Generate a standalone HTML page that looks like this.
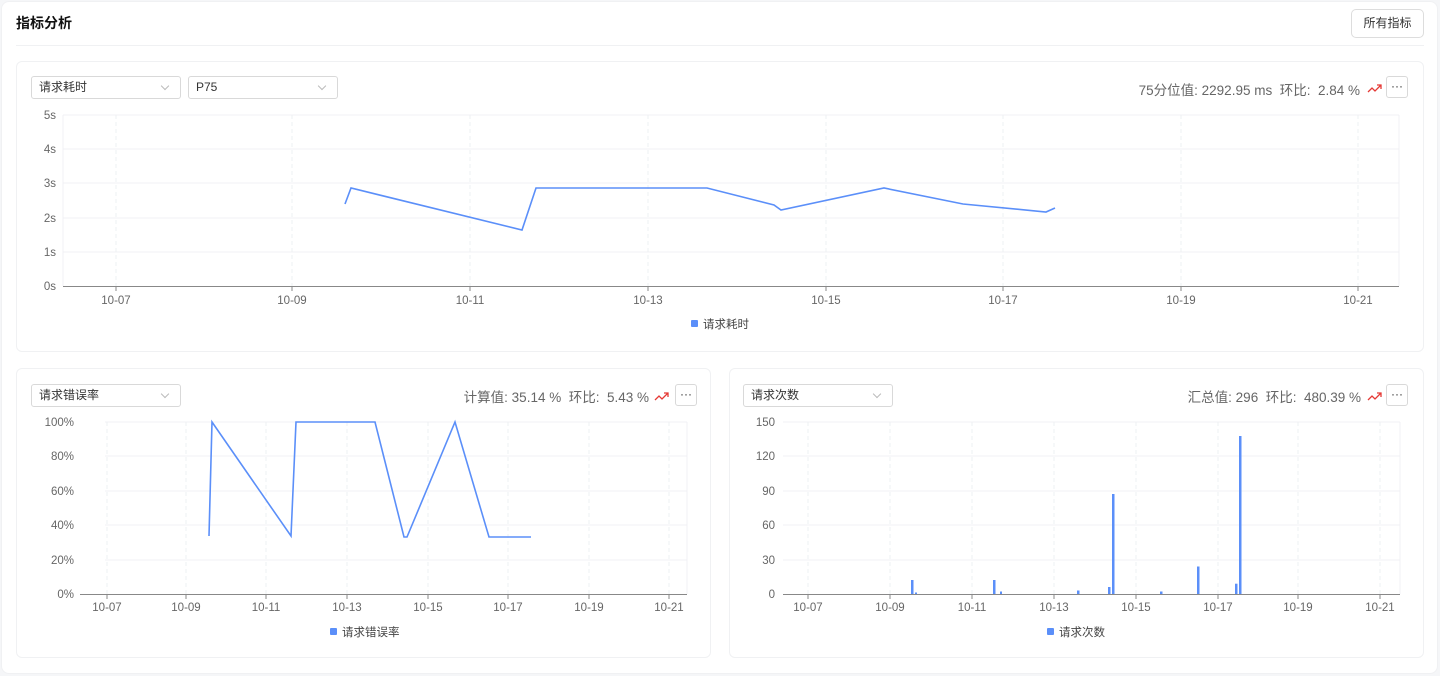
<!DOCTYPE html>
<html><head><meta charset="utf-8"><style>
*{margin:0;padding:0;box-sizing:border-box}
body{width:1440px;height:676px;background:#f5f6f8;font-family:"Liberation Sans","Noto Sans CJK SC",sans-serif;position:relative;overflow:hidden}
.abs{position:absolute}
.card{position:absolute;background:#fff;border:1px solid #f0f1f3;border-radius:6px}
.sel{position:absolute;height:23px;border:1px solid #d9d9d9;border-radius:3px;font-size:12px;line-height:13px;color:#333;padding:4px 7px;background:#fff}
.sel:after{content:"";position:absolute;right:12px;top:6px;width:5px;height:5px;border-right:1px solid #bbb;border-bottom:1px solid #bbb;transform:rotate(45deg)}
.stat{position:absolute;font-size:13.5px;color:#666;white-space:nowrap;text-align:right}
.more{position:absolute;width:22px;height:22px;border:1px solid #d9d9d9;border-radius:3px;background:#fff;font-size:12px;text-align:center;line-height:18px;color:#333}
</style></head><body>
<div class="card" style="left:1px;top:1px;width:1437px;height:673px;border-radius:8px"></div>
<div class="abs" style="left:16px;top:13px;font-size:14px;font-weight:bold;color:#111">指标分析</div>
<div class="abs" style="left:1351px;top:9px;width:73px;height:29px;border:1px solid #ddd;border-radius:5px;font-size:12px;color:#333;text-align:center;line-height:27px">所有指标</div>
<div class="abs" style="left:16px;top:45px;width:1408px;height:1px;background:#f0f1f3"></div>
<div class="card" style="left:16px;top:61px;width:1408px;height:291px"></div>
<div class="card" style="left:16px;top:368px;width:695px;height:290px"></div>
<div class="card" style="left:729px;top:368px;width:695px;height:290px"></div>
<div class="sel" style="left:31px;top:76px;width:150px">请求耗时</div>
<div class="sel" style="left:188px;top:76px;width:150px">P75</div>
<div class="stat" style="right:80px;top:79px">75分位值: 2292.95 ms&nbsp; 环比:&nbsp; 2.84 %</div>
<div class="more" style="left:1386px;top:76px">···</div>
<div class="sel" style="left:31px;top:384px;width:150px">请求错误率</div>
<div class="stat" style="right:791px;top:386px">计算值: 35.14 %&nbsp; 环比:&nbsp; 5.43 %</div>
<div class="more" style="left:675px;top:384px">···</div>
<div class="sel" style="left:743px;top:384px;width:150px">请求次数</div>
<div class="stat" style="right:79px;top:386px">汇总值: 296&nbsp; 环比:&nbsp; 480.39 %</div>
<div class="more" style="left:1386px;top:384px">···</div>
<svg class="abs" style="left:0;top:0" width="1440" height="676" font-family="Liberation Sans, Noto Sans CJK SC, sans-serif" font-size="11.5" fill="#666">
<g stroke="#e53935" stroke-width="1.3" fill="none">
<path d="M1368 92 l4 -4 l3 3 l6 -6 M1377 85 h4 v4"/>
<path d="M655 400 l4 -4 l3 3 l6 -6 M664 393 h4 v4"/>
<path d="M1368 400 l4 -4 l3 3 l6 -6 M1377 393 h4 v4"/>
</g>
<g stroke="#f0f1f4" stroke-width="1">
<line x1="63" y1="115" x2="1399" y2="115"/><line x1="63" y1="149" x2="1399" y2="149"/><line x1="63" y1="183" x2="1399" y2="183"/><line x1="63" y1="218" x2="1399" y2="218"/><line x1="63" y1="252" x2="1399" y2="252"/>
<line x1="63" y1="115" x2="63" y2="286"/><line x1="1399" y1="115" x2="1399" y2="286"/>
</g>
<g stroke="#eef0f3" stroke-dasharray="4 3">
<line x1="116" y1="115" x2="116" y2="286"/><line x1="292" y1="115" x2="292" y2="286"/><line x1="470" y1="115" x2="470" y2="286"/><line x1="648" y1="115" x2="648" y2="286"/><line x1="826" y1="115" x2="826" y2="286"/><line x1="1003" y1="115" x2="1003" y2="286"/><line x1="1181" y1="115" x2="1181" y2="286"/><line x1="1358" y1="115" x2="1358" y2="286"/>
</g>
<line x1="63" y1="286.5" x2="1399" y2="286.5" stroke="#888"/>
<g stroke="#888"><line x1="116" y1="286" x2="116" y2="291"/><line x1="292" y1="286" x2="292" y2="291"/><line x1="470" y1="286" x2="470" y2="291"/><line x1="648" y1="286" x2="648" y2="291"/><line x1="826" y1="286" x2="826" y2="291"/><line x1="1003" y1="286" x2="1003" y2="291"/><line x1="1181" y1="286" x2="1181" y2="291"/><line x1="1358" y1="286" x2="1358" y2="291"/></g>
<g text-anchor="end"><text x="56" y="119">5s</text><text x="56" y="153">4s</text><text x="56" y="187">3s</text><text x="56" y="222">2s</text><text x="56" y="256">1s</text><text x="56" y="290">0s</text></g>
<g text-anchor="middle"><text x="116" y="304">10-07</text><text x="292" y="304">10-09</text><text x="470" y="304">10-11</text><text x="648" y="304">10-13</text><text x="826" y="304">10-15</text><text x="1003" y="304">10-17</text><text x="1181" y="304">10-19</text><text x="1358" y="304">10-21</text></g>
<polyline fill="none" stroke="#5b8ff9" stroke-width="1.6" points="345,204 351,188 522,230 536,188 707,188 774,205 781,210 884,188 963,204 1046,212 1055,208"/>
<rect x="691" y="320" width="7" height="7" rx="1" fill="#5b8ff9"/><text x="703" y="328" fill="#444">请求耗时</text>
<g stroke="#f0f1f4">
<line x1="105" y1="422" x2="687" y2="422"/><line x1="105" y1="456" x2="687" y2="456"/><line x1="105" y1="491" x2="687" y2="491"/><line x1="105" y1="525" x2="687" y2="525"/><line x1="105" y1="560" x2="687" y2="560"/>
<line x1="687" y1="422" x2="687" y2="594"/>
</g>
<g stroke="#eef0f3" stroke-dasharray="4 3">
<line x1="107" y1="422" x2="107" y2="594"/><line x1="186" y1="422" x2="186" y2="594"/><line x1="266" y1="422" x2="266" y2="594"/><line x1="347" y1="422" x2="347" y2="594"/><line x1="428" y1="422" x2="428" y2="594"/><line x1="508" y1="422" x2="508" y2="594"/><line x1="589" y1="422" x2="589" y2="594"/><line x1="669" y1="422" x2="669" y2="594"/>
</g>
<line x1="80" y1="594.5" x2="687" y2="594.5" stroke="#888"/>
<g stroke="#888"><line x1="107" y1="594" x2="107" y2="599"/><line x1="186" y1="594" x2="186" y2="599"/><line x1="266" y1="594" x2="266" y2="599"/><line x1="347" y1="594" x2="347" y2="599"/><line x1="428" y1="594" x2="428" y2="599"/><line x1="508" y1="594" x2="508" y2="599"/><line x1="589" y1="594" x2="589" y2="599"/><line x1="669" y1="594" x2="669" y2="599"/></g>
<g text-anchor="end"><text x="74" y="426">100%</text><text x="74" y="460">80%</text><text x="74" y="495">60%</text><text x="74" y="529">40%</text><text x="74" y="564">20%</text><text x="74" y="598">0%</text></g>
<g text-anchor="middle"><text x="107" y="611">10-07</text><text x="186" y="611">10-09</text><text x="266" y="611">10-11</text><text x="347" y="611">10-13</text><text x="428" y="611">10-15</text><text x="508" y="611">10-17</text><text x="589" y="611">10-19</text><text x="669" y="611">10-21</text></g>
<polyline fill="none" stroke="#5b8ff9" stroke-width="1.6" points="209,536 212,422 291,536 296,422 375,422 404,537 407,537 455,422 489,537 531,537"/>
<rect x="330" y="628" width="7" height="7" rx="1" fill="#5b8ff9"/><text x="342" y="636" fill="#444">请求错误率</text>
<g stroke="#f0f1f4">
<line x1="783" y1="422" x2="1400" y2="422"/><line x1="783" y1="456" x2="1400" y2="456"/><line x1="783" y1="491" x2="1400" y2="491"/><line x1="783" y1="525" x2="1400" y2="525"/><line x1="783" y1="560" x2="1400" y2="560"/>
<line x1="1400" y1="422" x2="1400" y2="594"/>
</g>
<g stroke="#eef0f3" stroke-dasharray="4 3">
<line x1="808" y1="422" x2="808" y2="594"/><line x1="890" y1="422" x2="890" y2="594"/><line x1="972" y1="422" x2="972" y2="594"/><line x1="1054" y1="422" x2="1054" y2="594"/><line x1="1136" y1="422" x2="1136" y2="594"/><line x1="1218" y1="422" x2="1218" y2="594"/><line x1="1298" y1="422" x2="1298" y2="594"/><line x1="1380" y1="422" x2="1380" y2="594"/>
</g>
<line x1="783" y1="594.5" x2="1400" y2="594.5" stroke="#888"/>
<g stroke="#888"><line x1="808" y1="594" x2="808" y2="599"/><line x1="890" y1="594" x2="890" y2="599"/><line x1="972" y1="594" x2="972" y2="599"/><line x1="1054" y1="594" x2="1054" y2="599"/><line x1="1136" y1="594" x2="1136" y2="599"/><line x1="1218" y1="594" x2="1218" y2="599"/><line x1="1298" y1="594" x2="1298" y2="599"/><line x1="1380" y1="594" x2="1380" y2="599"/></g>
<g text-anchor="end"><text x="775" y="426">150</text><text x="775" y="460">120</text><text x="775" y="495">90</text><text x="775" y="529">60</text><text x="775" y="564">30</text><text x="775" y="598">0</text></g>
<g text-anchor="middle"><text x="808" y="611">10-07</text><text x="890" y="611">10-09</text><text x="972" y="611">10-11</text><text x="1054" y="611">10-13</text><text x="1136" y="611">10-15</text><text x="1218" y="611">10-17</text><text x="1298" y="611">10-19</text><text x="1380" y="611">10-21</text></g>
<g fill="#5b8ff9">
<rect x="911" y="580" width="2.5" height="14"/><rect x="915" y="592.5" width="2" height="1.5"/>
<rect x="993" y="580" width="2.5" height="14"/><rect x="1000" y="591.5" width="2" height="2.5"/>
<rect x="1077" y="590.5" width="2.5" height="3.5"/>
<rect x="1108" y="587" width="2.5" height="7"/><rect x="1112" y="494" width="2.5" height="100"/>
<rect x="1160" y="591.5" width="2.5" height="2.5"/>
<rect x="1197" y="566.5" width="2.5" height="27.5"/>
<rect x="1235" y="583.7" width="2.5" height="10.3"/><rect x="1239" y="436" width="2.5" height="158"/>
</g>
<rect x="1047" y="628" width="7" height="7" rx="1" fill="#5b8ff9"/><text x="1059" y="636" fill="#444">请求次数</text>
</svg>
</body></html>
